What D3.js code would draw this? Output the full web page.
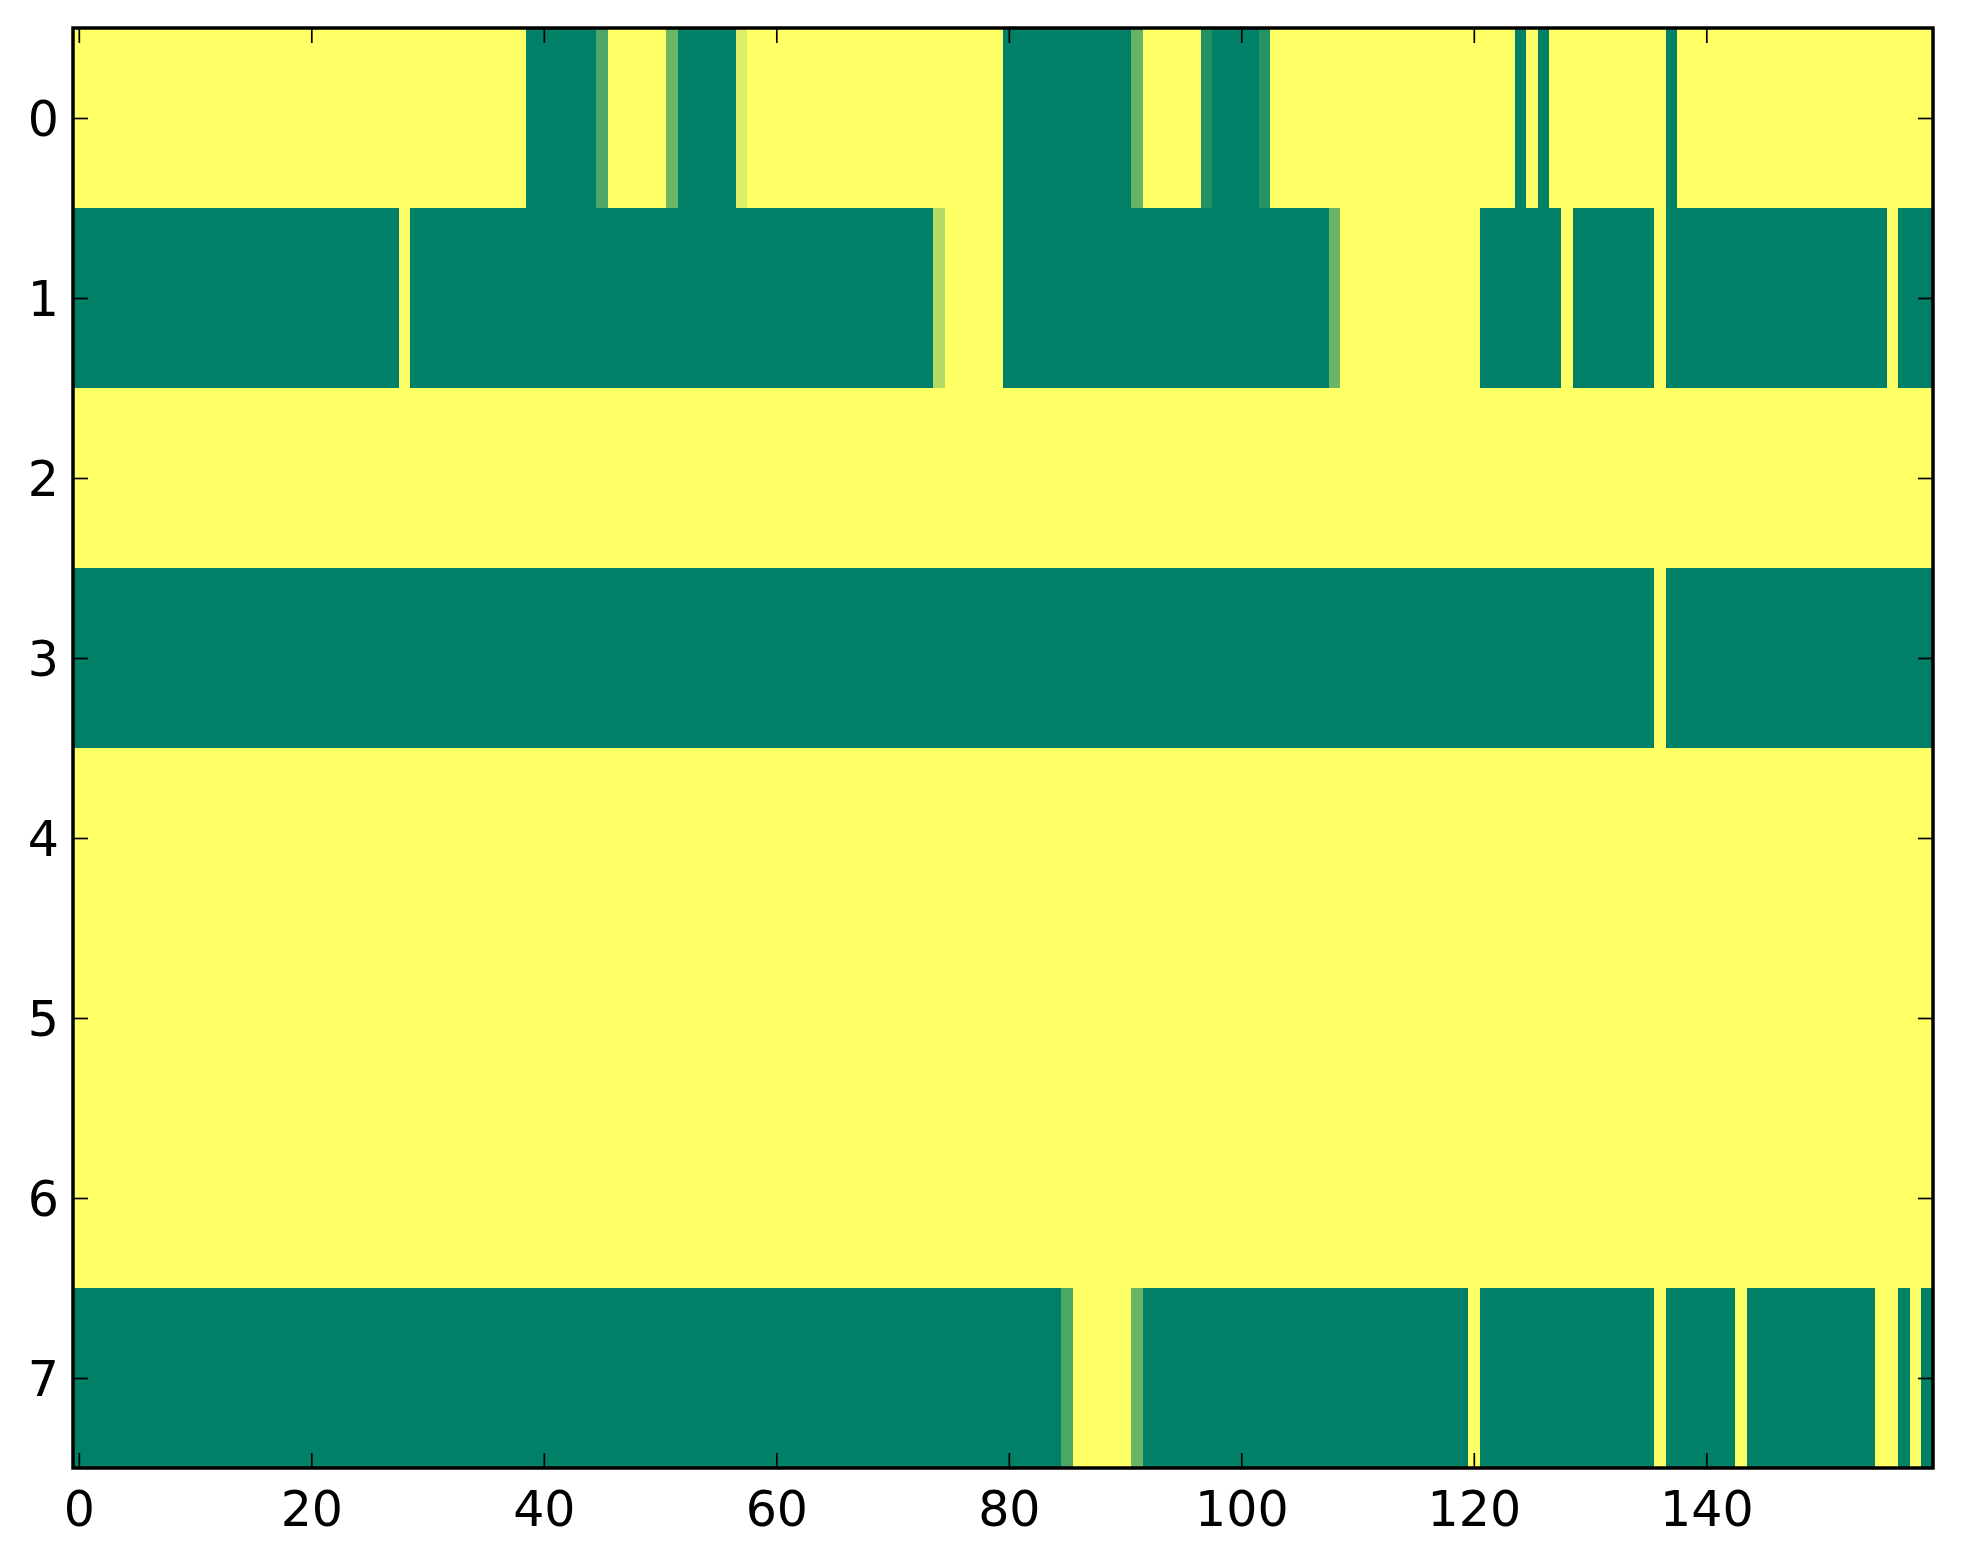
<!DOCTYPE html>
<html>
<head>
<meta charset="utf-8">
<script src="https://cdn.jsdelivr.net/npm/d3@7"></script>
<style>
  html, body { margin: 0; padding: 0; background: #ffffff; }
  svg { display: block; }
  text { font-family: "DejaVu Sans", sans-serif; }
</style>
</head>
<body>
<svg id="chart" width="1963" height="1564"></svg>
<script>
// ---- data: each row given as runs of [value, count] (values 0..1, summer colormap) ----
const row0 = [[1,39],[0,6],[0.3,1],[1,5],[0.42,1],[0,5],[0.87,1],[1,22],[0,11],[0.4,1],[1,5],[0.14,1],[0,4],[0.14,1],[1,21],[0,1],[1,1],[0,1],[1,10],[0,1],[1,22]];
const row1 = [[0,28],[1,1],[0,45],[0.71,1],[1,5],[0,28],[0.42,1],[1,12],[0,7],[1,1],[0,7],[1,1],[0,19],[1,1],[0,3]];
const row2 = [[1,160]];
const row3 = [[0,136],[1,1],[0,23]];
const row4 = [[1,160]];
const row5 = [[1,160]];
const row6 = [[1,160]];
const row7 = [[0,85],[0.3,1],[1,5],[0.42,1],[0,28],[1,1],[0,15],[1,1],[0,6],[1,1],[0,11],[1,2],[0,1],[1,1],[0,1]];
const rows = [row0, row1, row2, row3, row4, row5, row6, row7];
const xTickValues = [0, 20, 40, 60, 80, 100, 120, 140];
const yTickValues = [0, 1, 2, 3, 4, 5, 6, 7];

(function () {
  // expand runs into cells
  const cells = [];
  rows.forEach((runs, r) => {
    let c = 0;
    runs.forEach(([v, n]) => {
      for (let k = 0; k < n; k++) { cells.push({row: r, col: c, value: v}); c++; }
    });
  });
  const nCols = 160;

  // ---- layout ----
  const L = 73, R = 1933, T = 28, B = 1468;
  const x = d3.scaleLinear().domain([-0.5, nCols - 0.5]).range([L, R]);
  const y = d3.scaleLinear().domain([-0.5, rows.length - 0.5]).range([T, B]);
  const color = d3.scaleLinear().domain([0, 1]).range(["#008066", "#ffff66"]).interpolate(d3.interpolateRgb);

  const svg = d3.select("#chart");

  svg.append("g")
    .selectAll("rect")
    .data(cells)
    .join("rect")
    .attr("x", d => x(d.col - 0.5))
    .attr("y", d => y(d.row - 0.5))
    .attr("width", d => x(d.col + 0.5) - x(d.col - 0.5) + 0.6)
    .attr("height", d => y(d.row + 0.5) - y(d.row - 0.5) + 0.6)
    .attr("fill", d => color(d.value))
    .attr("shape-rendering", "crispEdges");

  // ---- axes (ticks inward on all four sides) ----
  const tickLen = 15;
  const fontSize = 49;

  const gBottom = svg.append("g").attr("transform", `translate(0,${B})`)
    .call(d3.axisBottom(x).tickValues(xTickValues).tickFormat(d3.format("d")).tickSizeInner(-tickLen).tickSizeOuter(0).tickPadding(21));
  const gTop = svg.append("g").attr("transform", `translate(0,${T})`)
    .call(d3.axisTop(x).tickValues(xTickValues).tickFormat("").tickSizeInner(-tickLen).tickSizeOuter(0));
  const gLeft = svg.append("g").attr("transform", `translate(${L},0)`)
    .call(d3.axisLeft(y).tickValues(yTickValues).tickFormat(d3.format("d")).tickSizeInner(-tickLen).tickSizeOuter(0).tickPadding(14));
  const gRight = svg.append("g").attr("transform", `translate(${R},0)`)
    .call(d3.axisRight(y).tickValues(yTickValues).tickFormat("").tickSizeInner(-tickLen).tickSizeOuter(0));

  [gBottom, gTop, gLeft, gRight].forEach(g => {
    g.select(".domain").remove();
    g.selectAll(".tick line").attr("stroke", "#000").attr("stroke-width", 1.7);
    g.selectAll(".tick text")
      .attr("fill", "#000")
      .style("font-family", "'DejaVu Sans', sans-serif")
      .style("font-size", fontSize + "px");
  });
  gBottom.selectAll(".tick text").attr("dy", null).attr("y", 1526 - B).attr("dominant-baseline", "alphabetic");
  gLeft.selectAll(".tick text").attr("dy", "0.36em");

  // frame (spines)
  svg.append("rect")
    .attr("x", L).attr("y", T)
    .attr("width", R - L).attr("height", B - T)
    .attr("fill", "none")
    .attr("stroke", "#000")
    .attr("stroke-width", 3.5);
})();
</script>
</body>
</html>
